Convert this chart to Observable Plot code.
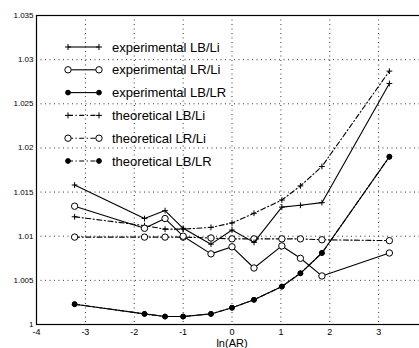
<!DOCTYPE html>
<html>
<head>
<meta charset="utf-8">
<script src="https://cdn.jsdelivr.net/npm/d3@7"></script>
<script src="https://cdn.jsdelivr.net/npm/@observablehq/plot@0.6"></script>
<style>
  html, body { margin: 0; padding: 0; background: #fff; overflow: hidden; }
  #wrap { position: relative; width: 419px; height: 348px; overflow: hidden; }
  #wrap svg { max-width: none !important; }
  #legend { position: absolute; left: 0; top: 0; }
</style>
</head>
<body>
<div id="wrap"></div>
<script>
// ln(AR) positions
const xs = [-3.22, -1.79, -1.37, -1.0, -0.43, 0, 0.45, 1.02, 1.4, 1.84, 3.22];
const expLBLi  = [1.0158, 1.0120, 1.0129, 1.0109, 1.0091, 1.0107, 1.0093, 1.0133, 1.0135, 1.0138, 1.0273];
const expLRLi  = [1.0134, 1.0109, 1.0120, 1.0100, 1.0080, 1.0088, 1.0064, 1.0089, 1.0075, 1.0055, 1.0081];
const expLBLR  = [1.0023, 1.0012, 1.0009, 1.0009, 1.0012, 1.0019, 1.0028, 1.0043, 1.0058, 1.0081, 1.0190];
const theoLBLi = [1.0122, 1.0112, 1.0108, 1.0108, 1.0110, 1.0115, 1.0126, 1.0141, 1.0157, 1.0179, 1.0287];
const theoLRLi = [1.0099, 1.0099, 1.0099, 1.0099, 1.0098, 1.0097, 1.0097, 1.0097, 1.0097, 1.0096, 1.0095];
const theoLBLR = [1.0023, 1.0012, 1.0009, 1.0009, 1.0012, 1.0019, 1.0028, 1.0043, 1.0058, 1.0081, 1.0190];

const xGridTicks = [-4, -3, -2, -1, 0, 1, 2, 3, 4];
const xLabelTicks = [-4, -3, -2, -1, 0, 1, 2, 3];
const yTicks = [1, 1.005, 1.01, 1.015, 1.02, 1.025, 1.03, 1.035];
const xLabel = "ln(AR)";

const seriesNames = ["experimental LB/Li", "experimental LR/Li", "experimental LB/LR",
                     "theoretical LB/Li", "theoretical LR/Li", "theoretical LB/LR"];
const seriesValues = [expLBLi, expLRLi, expLBLR, theoLBLi, theoLRLi, theoLBLR];

const dashTheo = "5,2.5,1.2,2.5";
const styles = [
  {symbol: "plus",   fill: "none",  dash: null},
  {symbol: "circle", fill: "white", dash: null},
  {symbol: "circle", fill: "black", dash: null},
  {symbol: "plus",   fill: "none",  dash: dashTheo},
  {symbol: "circle", fill: "white", dash: dashTheo},
  {symbol: "circle", fill: "black", dash: dashTheo}
];

const series = seriesNames.map((name, i) => xs.map((x, j) => ({x, y: seriesValues[i][j], name})));

const marks = [
  Plot.gridX(xGridTicks, {stroke: "#000", strokeOpacity: 0.8, strokeDasharray: "1,3.5"}),
  Plot.gridY(yTicks, {stroke: "#000", strokeOpacity: 0.8, strokeDasharray: "1,3.5"}),
  Plot.frame({stroke: "#000", strokeWidth: 1.2}),
  Plot.axisX(xLabelTicks, {tickSize: 0, tickPadding: 4, fontSize: 9, label: null, tickFormat: d => d < 0 ? "-" + Math.abs(d) : String(d)}),
  Plot.axisY(yTicks, {tickSize: 0, tickPadding: 3, fontSize: 8, label: null, tickFormat: d => String(+d.toFixed(3))}),
  Plot.text([xLabel], {frameAnchor: "bottom", dy: 19, lineAnchor: "middle", fontSize: 11})
];

// draw theoretical first (beneath), then experimental
[3, 4, 5, 0, 1, 2].forEach(i => {
  const st = styles[i];
  marks.push(Plot.line(series[i], {x: "x", y: "y", stroke: "#000", strokeWidth: 1.1, strokeDasharray: st.dash}));
  if (st.symbol === "plus") {
    marks.push(Plot.dot(series[i], {x: "x", y: "y", symbol: "plus", r: 2, stroke: "#000", strokeWidth: 1}));
  } else if (st.fill === "white") {
    marks.push(Plot.dot(series[i], {x: "x", y: "y", symbol: "circle", r: 3.2, stroke: "#000", fill: "white", strokeWidth: 1}));
  } else {
    marks.push(Plot.dot(series[i], {x: "x", y: "y", symbol: "circle", r: 2.4, stroke: "#000", fill: "#000", strokeWidth: 1}));
  }
});

const chart = Plot.plot({
  width: 430,
  height: 348,
  marginLeft: 36,
  marginRight: 3,
  marginTop: 15,
  marginBottom: 24,
  style: {fontFamily: "'Liberation Sans', Arial, Helvetica, sans-serif", color: "#000", background: "#fff", maxWidth: "none"},
  x: {domain: [-4, 4]},
  y: {domain: [1, 1.035]},
  marks
});
document.getElementById("wrap").appendChild(chart);

// legend overlay (inside the plot, upper left)
const rowY0 = 47, rowStep = 22.8;
const leg = d3.select("#wrap").append("svg")
  .attr("id", "legend").attr("width", 419).attr("height", 348)
  .style("font-family", "'Liberation Sans', Arial, Helvetica, sans-serif");
const symPlus = d3.symbol(d3.symbolPlus, 14)();
seriesNames.forEach((name, i) => {
  const st = styles[i];
  const y = rowY0 + i * rowStep;
  const g = leg.append("g").attr("transform", `translate(0,${y})`);
  g.append("line").attr("x1", 68).attr("x2", 99).attr("y1", 0).attr("y2", 0)
    .attr("stroke", "#000").attr("stroke-width", 1.1)
    .attr("stroke-dasharray", st.dash);
  [68, 99].forEach(x => {
    if (st.symbol === "plus") {
      g.append("path").attr("d", symPlus).attr("transform", `translate(${x},0)`)
        .attr("stroke", "#000").attr("fill", "none");
    } else if (st.fill === "white") {
      g.append("circle").attr("cx", x).attr("cy", 0).attr("r", 3.2).attr("fill", "white").attr("stroke", "#000");
    } else {
      g.append("circle").attr("cx", x).attr("cy", 0).attr("r", 2.4).attr("fill", "#000").attr("stroke", "#000");
    }
  });
  g.append("text").attr("x", 112).attr("y", 0).attr("dy", "0.35em")
    .attr("font-size", 13).attr("fill", "#000").text(name);
});
</script>
</body>
</html>
